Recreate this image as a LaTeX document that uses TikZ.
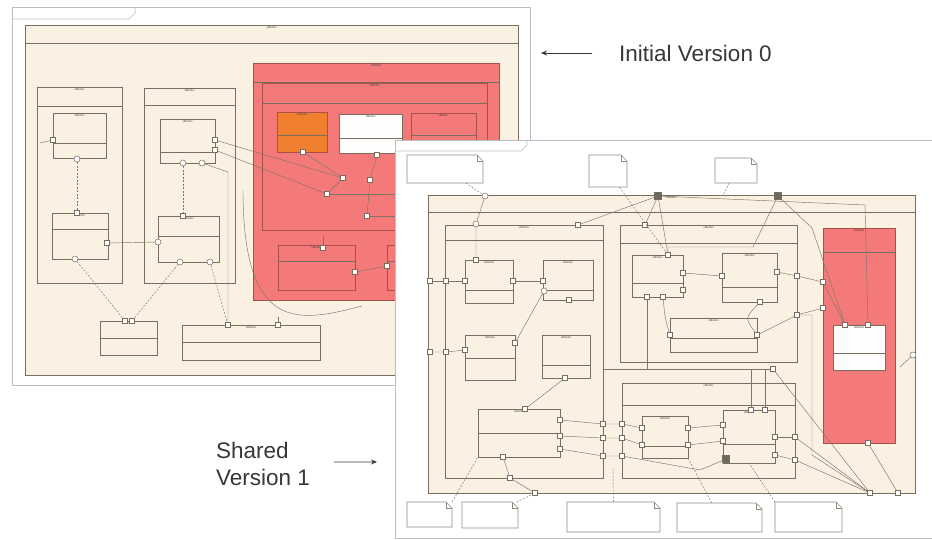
\documentclass[tikz,border=0pt]{standalone}
\usepackage{fontspec}
\setmainfont{Liberation Sans}
\usetikzlibrary{arrows.meta}
\definecolor{beige}{RGB}{250,241,227}
\definecolor{linec}{RGB}{120,110,95}
\definecolor{redfill}{RGB}{243,122,120}
\definecolor{redline}{RGB}{170,80,75}
\definecolor{orfill}{RGB}{240,128,48}
\definecolor{framec}{RGB}{185,190,200}
\definecolor{txtc}{RGB}{55,55,55}
\definecolor{connc}{RGB}{125,118,105}
\definecolor{gportc}{RGB}{110,105,95}
\tikzset{
  box/.style={draw=linec, line width=0.6pt, inner sep=0pt, outer sep=0pt},
  blk/.style={box, fill=beige},
  redblk/.style={box, draw=redline, fill=redfill},
  orblk/.style={box, draw=redline, fill=orfill},
  whblk/.style={box, fill=white!90!beige},
  hline/.style={draw=linec, line width=0.5pt},
  tinyt/.style={font=\fontsize{3}{3.5}\selectfont, text=txtc, inner sep=0.5pt},
  portsq/.style={draw=linec, fill=white, line width=0.5pt, minimum size=5pt, inner sep=0pt},
  portc/.style={circle, draw=linec, fill=white, line width=0.5pt, minimum size=6pt, inner sep=0pt},
  gport/.style={draw=linec, fill=gportc, line width=0.6pt, minimum size=7pt, inner sep=0pt},
  conn/.style={draw=connc, line width=0.45pt},
  dconn/.style={conn, dash pattern=on 2pt off 1.5pt},
  winfr/.style={draw=framec, line width=0.8pt, fill=white},
  notest/.style={draw=linec!80, line width=0.6pt, fill=white},
  bigt/.style={font=\fontsize{22.5}{27}\selectfont, text=txtc, inner sep=0pt},
  bigarrow/.style={draw=txtc, line width=0.9pt, -{Stealth[length=6pt,width=5pt]}},
}
\newcommand\mkblk[7]{%
  \node[#7, anchor=north west, minimum width={(#4-#2)*1pt}, minimum height={(#5-#3)*1pt}] (#1) at (#2,#3) {};
  \draw[hline] ([yshift=-#6pt]#1.north west) -- ([yshift=-#6pt]#1.north east);
  \node[tinyt, anchor=north] at ([yshift=-1pt]#1.north) {«block»};
}
\newcommand\mkport[3]{\node[portsq] (#1) at (#2,#3) {};}
\newcommand\mkcport[3]{\node[portc] (#1) at (#2,#3) {};}
\newcommand\mkgport[3]{\node[gport] (#1) at (#2,#3) {};}
\newcommand\mknote[5]{%
  \node[anchor=north west, inner sep=0pt, outer sep=0pt, minimum width={(#4-#2)*1pt}, minimum height={(#5-#3)*1pt}] (#1) at (#2,#3) {};
  \draw[notest] (#2,#3) -- ({#4-6},#3) -- (#4,{#3+6}) -- (#4,#5) -- (#2,#5) -- cycle;
  \draw[notest, fill=none] ({#4-6},#3) -- ({#4-6},{#3+6}) -- (#4,{#3+6});
}
\begin{document}
\begin{tikzpicture}[x=1pt,y=-1pt]
\useasboundingbox (0,0) rectangle (932,539);
\fill[white] (0,0) rectangle (932,539);

% ================= BACK WINDOW (Initial Version 0) =================
\node[winfr, anchor=north west, minimum width=518pt, minimum height=378pt, inner sep=0pt, outer sep=0pt] (bwin) at (12,7) {};
\draw[draw=framec, line width=0.6pt] (12,19) -- (129,19) -- (135,13) -- (135,7);

\mkblk{T0}{25}{25}{518}{375}{18}{blk}
\mkblk{A}{37}{87}{122}{283}{19}{blk}
\mkblk{A1}{53}{113}{106}{158}{30}{blk}
\mkblk{A2}{52}{213}{108}{259}{16}{blk}
\mkblk{B}{144}{88}{235}{283}{17}{blk}
\mkblk{B1}{160}{119}{215}{163}{33}{blk}
\mkblk{B2}{158}{216}{219}{262}{20}{blk}
\mkblk{C1}{100}{321}{157}{355}{17}{blk}
\mkblk{C2}{182}{325}{320}{360}{17}{blk}
\mkblk{R0}{253}{63}{499}{300}{19}{redblk}
\mkblk{R0a}{262}{83}{487}{230}{20}{redblk}
\mkblk{O}{277}{112}{327}{152}{23}{orblk}
\mkblk{W}{339}{114}{402}{153}{24}{whblk}
\mkblk{Rb}{411}{113}{476}{150}{22}{redblk}
\mkblk{Rl}{278}{245}{355}{290}{16}{redblk}
\mkblk{Rr}{387}{245}{430}{290}{16}{redblk}

\mkport{a1l}{53}{140}
\mkcport{a1b}{77}{159}
\mkport{a2t}{77}{213}
\mkport{a2r}{107}{243}
\mkcport{a2b}{75}{259}
\mkport{b1ra}{215}{140}
\mkport{b1rb}{215}{150}
\mkcport{b1ba}{183}{163}
\mkcport{b1bb}{202}{163}
\mkport{b2t}{183}{216}
\mkcport{b2l}{158}{242}
\mkcport{b2ba}{180}{262}
\mkcport{b2bb}{210}{262}
\mkport{c1ta}{125}{321}
\mkport{c1tb}{132}{321}
\mkport{c2ta}{228}{325}
\mkport{c2tb}{278}{325}
\mkport{ob}{303}{152}
\mkport{wb}{377}{155}
\mkport{rpa}{343}{178}
\mkport{rpb}{370}{180}
\mkport{rpc}{327}{194}
\mkport{rpd}{367}{216}
\mkport{rlt}{323}{248}
\mkport{rlr}{355}{272}
\mkport{rrl}{387}{266}

\coordinate (a1x) at (40,143);
\coordinate (v1) at (228,172);
\coordinate (k1) at (243,190);
\coordinate (k2) at (362,306);
\coordinate (rlu) at (323,236);
\draw[conn] (a1l) -- (a1x);
\draw[dconn] (a1b) -- (a2t);
\draw[dconn] (b1ba) -- (b2t);
\draw[dconn] (a2b) -- (c1ta);
\draw[dconn] (b2ba) -- (c1tb);
\draw[dconn] (b2bb) -- (c2ta);
\draw[conn] (a2r) -- (b2l);
\draw[conn] (b1ra) -- (rpa);
\draw[conn] (b1rb) -- (rpc);
\draw[conn] (b1bb) -- (v1) -- (c2ta);
\draw[conn] (k1) .. controls (243,335) and (300,322) .. (k2);
\draw[conn] (c2tb) -- ++(0,-8);
\draw[conn] (ob) -- (rpa);
\draw[conn] (wb) -- (rpb);
\draw[conn] (rpa) -- (rpc);
\draw[conn] (rpb) -- (rpd);
\draw[conn] (rpc) -- (rpc -| R0a.east);
\draw[conn] (rpd) -- (rpd -| R0a.east);
\draw[conn] (rlr) -- (rrl);
\draw[conn] (rlt) -- (rlu);

% ================= FRONT WINDOW (Shared Version 1) =================
\node[winfr, anchor=north west, minimum width=560pt, minimum height=398pt, inner sep=0pt, outer sep=0pt] (fwin) at (395,140) {};
\draw[draw=framec, line width=0.6pt] (395,151) -- (521,151) -- (527,145) -- (527,140);

\mknote{n1}{407}{155}{483}{183}
\mknote{n2}{589}{155}{627}{187}
\mknote{n3}{715}{158}{757}{183}
\mknote{bn1}{407}{502}{452}{527}
\mknote{bn2}{462}{502}{518}{528}
\mknote{bn3}{567}{502}{660}{532}
\mknote{bn4}{677}{503}{762}{532}
\mknote{bn5}{775}{502}{842}{532}

\mkblk{F}{428}{195}{915}{493}{17}{blk}
\mkblk{L}{445}{225}{603}{478}{15}{blk}
\mkblk{M}{620}{225}{797}{362}{18}{blk}
\mkblk{S}{622}{383}{795}{478}{22}{blk}
\mkblk{R}{823}{228}{895}{443}{24}{redblk}
\mkblk{R1}{833}{325}{885}{370}{28}{whblk}
\mkblk{L1}{465}{260}{513}{303}{30}{blk}
\mkblk{L2}{543}{260}{593}{300}{30}{blk}
\mkblk{L3}{465}{335}{515}{380}{23}{blk}
\mkblk{L4}{542}{335}{590}{378}{30}{blk}
\mkblk{L5}{478}{409}{560}{457}{24}{blk}
\mkblk{M1}{632}{255}{683}{297}{28}{blk}
\mkblk{M2}{722}{253}{777}{302}{34}{blk}
\mkblk{M3}{670}{318}{757}{352}{20}{blk}
\mkblk{S1}{642}{416}{688}{458}{30}{blk}
\mkblk{S2}{723}{410}{775}{463}{34}{blk}

\mkgport{g1}{658}{196}
\mkgport{g2}{778}{196}
\mkcport{ftp}{485}{196}
\mkcport{lt}{476}{224}
\mkport{ltb}{578}{225}
\mkport{mt}{645}{225}
\mkport{lta}{476}{260}
\mkport{fla}{430}{281}
\mkport{lla}{446}{281}
\mkport{l1l}{465}{281}
\mkport{l1r}{513}{281}
\mkport{l2l}{543}{281}
\mkcport{l2lb}{544}{291}
\mkport{l2b}{569}{300}
\mkport{flb}{430}{352}
\mkport{llb}{446}{352}
\mkport{l3l}{465}{350}
\mkport{l3r}{515}{343}
\mkport{l4b}{565}{378}
\mkport{l5t}{525}{409}
\mkport{l5ra}{560}{420}
\mkport{l5rb}{560}{436}
\mkport{l5rc}{560}{449}
\mkport{l5b}{503}{457}
\mkport{lb}{510}{478}
\mkport{fba}{535}{493}
\mkport{xaa}{603}{424}
\mkport{xab}{622}{424}
\mkport{xba}{603}{438}
\mkport{xbb}{622}{438}
\mkport{xca}{603}{456}
\mkport{xcb}{622}{456}
\mkport{s1la}{642}{428}
\mkport{s1lb}{642}{445}
\mkport{s1ra}{688}{428}
\mkport{s1rb}{688}{445}
\mkport{s2ta}{751}{410}
\mkport{s2tb}{765}{410}
\mkport{s2la}{723}{425}
\mkport{s2lb}{723}{441}
\mkport{s2ra}{775}{437}
\mkport{s2rb}{775}{455}
\mkgport{s2b}{726}{459}
\mkport{sra}{795}{437}
\mkport{srb}{795}{460}
\mkport{m1ba}{647}{297}
\mkport{m1bb}{663}{297}
\mkport{m1ra}{683}{273}
\mkport{m1rb}{683}{290}
\mkport{m1t}{668}{255}
\mkport{m2l}{722}{276}
\mkport{m2r}{777}{272}
\mkport{m2b}{760}{302}
\mkport{m3l}{670}{335}
\mkport{m3r}{757}{335}
\mkport{mra}{797}{276}
\mkport{mrb}{797}{315}
\mkport{rla}{823}{282}
\mkport{rlb}{823}{308}
\mkport{r1ta}{845}{325}
\mkport{r1tb}{868}{325}
\mkport{rb}{868}{443}
\mkcport{fr}{913}{355}
\mkport{fbb}{870}{493}
\mkport{fbc}{898}{493}
\mkport{bus}{773}{369}

\coordinate (c1) at (865,205);
\coordinate (c2) at (753,247);
\coordinate (c3) at (668,247);
\coordinate (c4) at (812,228);
\coordinate (c5) at (700,470);
\coordinate (c6) at (812,315);
\coordinate (c7) at (812,455);
\coordinate (c8) at (900,367);
\coordinate (c9) at (604,369);
\coordinate (c10) at (723,195);
\coordinate (c11) at (613,468);

\draw[conn] (ftp) -- (lt) -- (lta);
\draw[conn] (g1) -- (ltb);
\draw[conn] (g1) -- (mt);
\draw[conn] (g1) -- (m1t);
\draw[conn] (g1) -- (c1) -- (r1tb);
\draw[conn] (g2) -- (c2) -- (c3) -- (m1t);
\draw[conn] (g2) -- (c4) -- (r1ta);
\draw[conn] (fla) -- (lla) -- (l1l);
\draw[conn] (l1r) -- (l2l);
\draw[conn] (flb) -- (llb) -- (l3l);
\draw[conn] (l3r) -- (l2lb);
\draw[conn] (l4b) -- (l5t);
\draw[conn] (l5ra) -- (xaa) -- (xab) -- (s1la);
\draw[conn] (l5rb) -- (xba) -- (xbb) -- (s1lb);
\draw[conn] (l5rc) -- (xca) -- (xcb) -- (c5) -- (s2b);
\draw[conn] (s1ra) -- (s2la);
\draw[conn] (s1rb) -- (s2lb);
\draw[conn] (s2ra) -- (sra);
\draw[conn] (s2rb) -- (srb);
\draw[conn] (sra) -- (fbb);
\draw[conn] (srb) -- (fbb);
\draw[conn] (mrb) -- (c6) -- (c7) -- (fbb);
\draw[conn] (rb) -- (fbc);
\draw[conn] (fr) -- (c8);
\draw[conn] (m1ra) -- (m2l);
\draw[conn] (m2r) -- (mra) -- (rla) -- (r1ta);
\draw[conn] (m1bb) .. controls (665,318) .. (m3l);
\draw[conn] (m2b) .. controls (745,318) .. (m3r);
\draw[conn] (m3r) -- (mrb) -- (rlb);
\draw[conn] (c9) -- (bus);
\draw[conn] (s2ta) -- (s2ta |- bus);
\draw[conn] (s2tb) -- (s2tb |- bus);
\draw[conn] (m1ba) -- (m1ba |- bus);
\draw[conn] (bus) -- (fbb);
\draw[conn] (l5b) -- (lb) -- (fba);
\draw[dconn] (n1) -- (ftp);
\draw[dconn] (n2) -- (m1t);
\draw[dconn] (n3) -- (c10);
\draw[dconn] (bn1.north east) -- (L5.south west);
\draw[dconn] (bn2) -- (fba);
\draw[dconn] (bn3) -- (c11);
\draw[dconn] (bn4) -- (S1.south east);
\draw[dconn] (bn5.north west) -- (S2.south);

% ================= captions =================
\node[bigt, anchor=base west] (lab0) at (619,61) {Initial Version 0};
\coordinate (a0) at (541,53);
\draw[bigarrow] ([xshift=-27pt,yshift=8pt]lab0.base west) -- (a0);
\node[bigt, anchor=base west] (lab1a) at (216,458) {Shared};
\node[bigt, anchor=base west] (lab1b) at (216,485) {Version 1};
\coordinate (a1) at (377,462);
\draw[bigarrow] ([xshift=45pt,yshift=-12pt]lab1a.east) -- (a1);
\end{tikzpicture}
\end{document}
